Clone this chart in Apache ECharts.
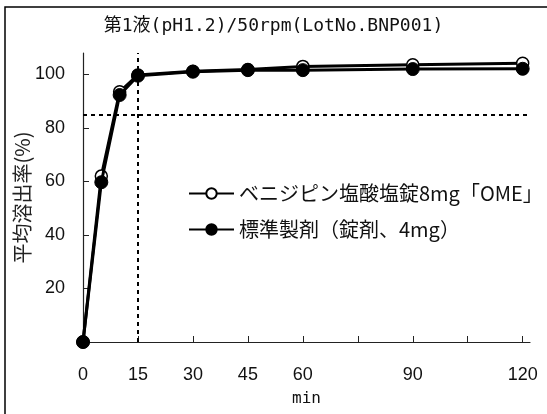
<!DOCTYPE html>
<html>
<head>
<meta charset="utf-8">
<script src="https://cdn.jsdelivr.net/npm/echarts@6/dist/echarts.min.js"></script>
<style>
  html, body { margin: 0; padding: 0; background: #fff; }
  #chart { width: 547px; height: 414px; }
</style>
</head>
<body>
<div id="chart"></div>
<script>
  // 溶出試験データ
  const times = [0, 5, 10, 15, 30, 45, 60, 90, 120]
  const testValues = [0, 62, 93.5, 99.8, 101.2, 101.8, 103, 103.6, 104.2]
  const refValues = [0, 59.7, 92.3, 99.5, 101, 101.6, 101.6, 102, 102.1]
  const xTicks = [0, 15, 30, 45, 60, 75, 90, 105, 120]
  const xLabels = [0, 15, 30, 45, 60, 90, 120]
  const yTicks = [20, 40, 60, 80, 100]
  const seriesNames = ['ベニジピン塩酸塩錠8mg「OME」', '標準製剤（錠剤、4mg）']

  const chart = echarts.init(document.getElementById('chart'))
  const monoFont = '"DejaVu Sans Mono", "Noto Sans CJK JP"'
  const cjkFont = '"Noto Sans CJK JP"'

  chart.setOption({
    animation: false,
    backgroundColor: '#fff',
    graphic: [{
      type: 'rect',
      shape: { x: 5, y: 7, width: 600, height: 500 },
      style: { fill: 'none', stroke: '#000', lineWidth: 1.5 },
      silent: true
    }],
    title: {
      text: '第1液(pH1.2)/50rpm(LotNo.BNP001)',
      left: 'center',
      top: 12,
      textStyle: { fontFamily: monoFont, fontSize: 18, fontWeight: 'normal', color: '#111' }
    },
    legend: {
      orient: 'vertical',
      left: 183,
      top: 177,
      itemWidth: 45,
      itemHeight: 13,
      itemGap: 13,
      textStyle: { fontFamily: cjkFont, fontSize: 20, color: '#111', lineHeight: 23 },
      data: seriesNames
    },
    grid: { left: 83, right: 17, top: 53, bottom: 72, outerBoundsMode: 'none' },
    xAxis: {
      type: 'value',
      min: 0,
      max: 122,
      name: 'min',
      nameLocation: 'middle',
      nameGap: 49,
      nameMoveOverlap: false,
      nameTextStyle: { fontFamily: monoFont, fontSize: 16, color: '#111' },
      axisLine: { lineStyle: { color: '#222', width: 1.2 } },
      axisTick: { inside: true, length: 6, customValues: xTicks, lineStyle: { color: '#222' } },
      axisLabel: {
        customValues: xLabels,
        margin: 24,
        fontFamily: 'Liberation Sans',
        fontSize: 18,
        color: '#111'
      },
      splitLine: { show: false }
    },
    yAxis: {
      type: 'value',
      min: 0,
      max: 108,
      name: '平均溶出率(%)',
      nameLocation: 'middle',
      nameGap: 51,
      nameMoveOverlap: false,
      nameTextStyle: { fontFamily: cjkFont, fontSize: 20, color: '#222' },
      axisLine: { show: true, lineStyle: { color: '#222', width: 1.2 } },
      axisTick: { show: true, inside: true, length: 6, customValues: yTicks, lineStyle: { color: '#222' } },
      axisLabel: {
        customValues: yTicks,
        margin: 18,
        fontFamily: 'Liberation Sans',
        fontSize: 18,
        color: '#111'
      },
      splitLine: { show: false }
    },
    series: [{
      name: seriesNames[0],
      type: 'line',
      data: times.map((t, i) => [t, testValues[i]]),
      symbol: 'circle',
      symbolSize: 12,
      z: 2,
      lineStyle: { color: '#000', width: 3 },
      itemStyle: { color: '#fff', borderColor: '#000', borderWidth: 1.5 },
      markLine: {
        silent: true,
        symbol: 'none',
        label: { show: false },
        lineStyle: { color: '#000', width: 2, type: [4, 4] },
        data: [{ xAxis: 15 }, { yAxis: 85 }]
      }
    }, {
      name: seriesNames[1],
      type: 'line',
      data: times.map((t, i) => [t, refValues[i]]),
      symbol: 'circle',
      symbolSize: 13,
      z: 3,
      lineStyle: { color: '#000', width: 3 },
      itemStyle: { color: '#000', borderColor: '#000', borderWidth: 1 }
    }]
  })
</script>
</body>
</html>
